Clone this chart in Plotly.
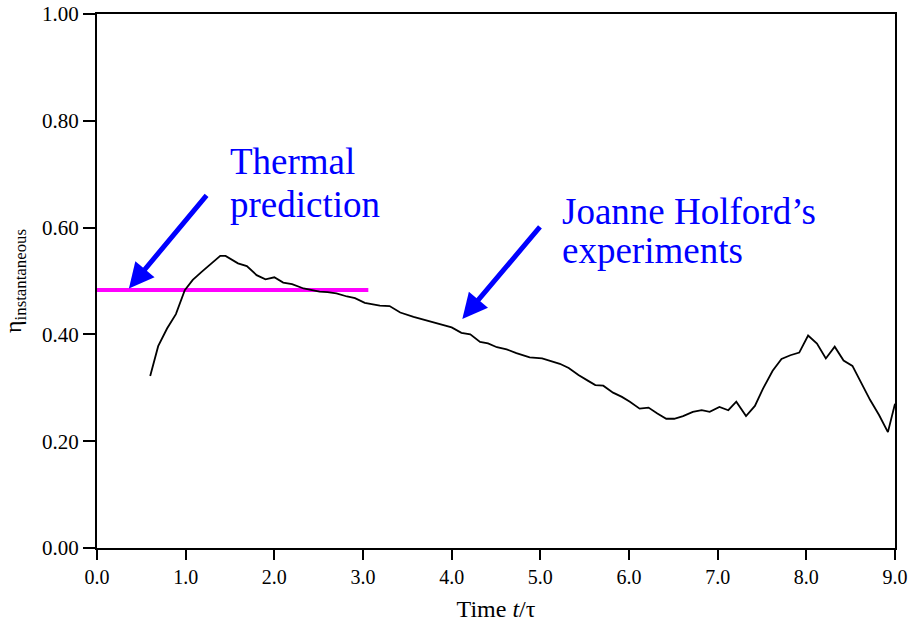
import plotly.graph_objects as go

# Experimental data (Joanne Holford's experiments)
time_exp = [0.60, 0.69, 0.79, 0.89, 0.99, 1.08, 1.18, 1.29, 1.39, 1.45, 1.59, 1.69,
            1.80, 1.90, 2.00, 2.10, 2.20, 2.33, 2.42, 2.51, 2.60, 2.70, 2.82, 2.91,
            3.02, 3.10, 3.19, 3.30, 3.42, 3.57, 3.70, 3.81, 3.91, 4.00, 4.11, 4.21,
            4.32, 4.41, 4.51, 4.62, 4.73, 4.88, 5.02, 5.11, 5.22, 5.32, 5.43, 5.54,
            5.62, 5.71, 5.82, 5.92, 6.01, 6.12, 6.22, 6.32, 6.42, 6.51, 6.61, 6.72,
            6.82, 6.91, 7.02, 7.12, 7.21, 7.32, 7.42, 7.51, 7.62, 7.72, 7.82, 7.92,
            8.02, 8.12, 8.22, 8.32, 8.42, 8.52, 8.62, 8.72, 8.82, 8.92, 9.00]
eta_exp = [0.322, 0.378, 0.411, 0.438, 0.483, 0.502, 0.517, 0.533, 0.547, 0.547, 0.533, 0.528,
           0.511, 0.503, 0.507, 0.497, 0.494, 0.486, 0.483, 0.480, 0.479, 0.477, 0.471, 0.468,
           0.459, 0.456, 0.454, 0.453, 0.441, 0.433, 0.427, 0.421, 0.417, 0.413, 0.403, 0.400,
           0.386, 0.383, 0.376, 0.372, 0.365, 0.357, 0.355, 0.350, 0.345, 0.337, 0.324, 0.313,
           0.305, 0.304, 0.291, 0.283, 0.274, 0.261, 0.263, 0.252, 0.242, 0.242, 0.247, 0.255,
           0.258, 0.255, 0.264, 0.258, 0.274, 0.247, 0.266, 0.298, 0.332, 0.354, 0.361, 0.366,
           0.398, 0.383, 0.355, 0.377, 0.351, 0.341, 0.310, 0.277, 0.249, 0.217, 0.270]

# Thermal prediction
time_thermal = [0.0, 3.06]
eta_thermal = [0.483, 0.483]

x_ticks = [0, 1, 2, 3, 4, 5, 6, 7, 8, 9]
x_tick_labels = ["0.0", "1.0", "2.0", "3.0", "4.0", "5.0", "6.0", "7.0", "8.0", "9.0"]
y_ticks = [0.0, 0.2, 0.4, 0.6, 0.8, 1.0]
y_tick_labels = ["0.00", "0.20", "0.40", "0.60", "0.80", "1.00"]

FONT = "Liberation Serif"
BLUE = "#0000FF"

fig = go.Figure()
fig.add_trace(go.Scatter(x=time_thermal, y=eta_thermal, mode="lines",
                         line=dict(color="#FF00FF", width=4), showlegend=False))
fig.add_trace(go.Scatter(x=time_exp, y=eta_exp, mode="lines",
                         line=dict(color="black", width=1.8), showlegend=False))

annotations = [
    # arrows
    dict(x=0.36, y=0.486, ax=1.25, ay=0.663, xref="x", yref="y", axref="x", ayref="y",
         text="", showarrow=True, arrowhead=2, arrowsize=1, arrowwidth=5,
         arrowcolor=BLUE, standoff=0),
    dict(x=4.12, y=0.429, ax=5.01, ay=0.604, xref="x", yref="y", axref="x", ayref="y",
         text="", showarrow=True, arrowhead=2, arrowsize=1, arrowwidth=5,
         arrowcolor=BLUE, standoff=0),
    # texts
    dict(x=1.48, y=0.723, xref="x", yref="y", text="Thermal", showarrow=False,
         xanchor="left", yanchor="middle", font=dict(family=FONT, size=37, color=BLUE)),
    dict(x=1.48, y=0.644, xref="x", yref="y", text="prediction", showarrow=False,
         xanchor="left", yanchor="middle", font=dict(family=FONT, size=37, color=BLUE)),
    dict(x=5.22, y=0.631, xref="x", yref="y", text="Joanne Holford\u2019s", showarrow=False,
         xanchor="left", yanchor="middle", font=dict(family=FONT, size=37, color=BLUE)),
    dict(x=5.22, y=0.558, xref="x", yref="y", text="experiments", showarrow=False,
         xanchor="left", yanchor="middle", font=dict(family=FONT, size=37, color=BLUE)),
]

fig.update_layout(
    width=911, height=622,
    margin=dict(l=97, r=16, t=14, b=74),
    paper_bgcolor="white", plot_bgcolor="white",
    font=dict(family=FONT, size=21, color="black"),
    annotations=annotations,
    xaxis=dict(range=[0, 9], tickvals=x_ticks, ticktext=x_tick_labels, automargin=False,
               showgrid=False, zeroline=False, showline=True, linecolor="black",
               linewidth=2, mirror=True, ticks="outside", ticklen=10, tickwidth=2,
               tickcolor="black", tickfont=dict(family=FONT, size=20),
               title=dict(text="Time <i>t</i>/\u03c4", font=dict(family=FONT, size=24), standoff=22)),
    yaxis=dict(range=[0, 1], tickvals=y_ticks, ticktext=y_tick_labels, automargin=False,
               showgrid=False, zeroline=False, showline=True, linecolor="black",
               linewidth=2, mirror=True, ticks="outside", ticklen=12, tickwidth=2,
               tickcolor="black", tickfont=dict(family=FONT, size=21),
               title=dict(text="\u03b7<sub>instantaneous</sub>", font=dict(family=FONT, size=24), standoff=14)),
)

# remove the browser's default 8px body margin so the figure fills the window exactly
fig.write_html("out.html",
               config={"displayModeBar": False},
               post_script="document.body.style.margin='0';document.body.style.overflow='hidden';")
